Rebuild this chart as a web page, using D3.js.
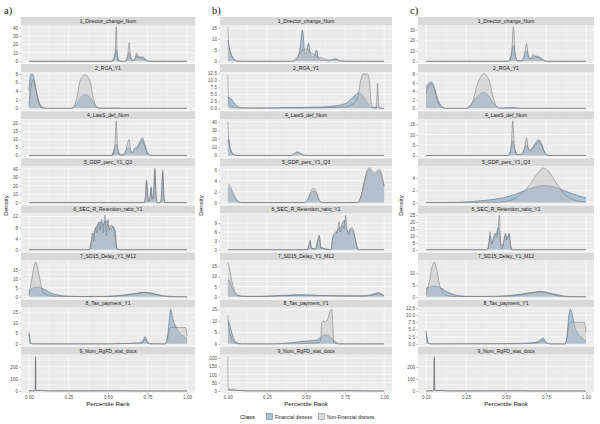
<!DOCTYPE html>
<html><head><meta charset="utf-8">
<script src="https://cdn.jsdelivr.net/npm/d3@7"></script>
<style>body{margin:0;background:#fff}svg{display:block}</style>
</head><body><svg id="c" width="600" height="424"></svg>
<script>
const facets = ["1_Director_change_Num","2_ROA_Y1","4_LawS_def_Num","5_GDP_perc_Y1_Q3","6_SEC_R_Retention_ratio_Y1","7_SD15_Delay_Y1_M12","8_Tax_payment_Y1","9_Num_RgFD_stat_docs"];
const classes = ["Financial distress","Non-Financial distress"];
const xTicks = [0,0.25,0.5,0.75,1];
const xTickLabels = ["0.00","0.25","0.50","0.75","1.00"];

// ---- panel a ----
const finA = [
 [[0,0],[0.52,0],[0.54,5],[0.552,14],[0.565,3],[0.58,0],[0.61,0],[0.625,6],[0.634,10],[0.645,4],[0.66,1],[0.675,4],[0.685,7],[0.70,5],[0.72,5],[0.735,3],[0.75,0.5],[0.77,0],[1,0]],
 [[0,4],[0.01,7.8],[0.02,8],[0.035,6.5],[0.05,3.5],[0.07,1],[0.09,0.2],[0.12,0],[0.26,0],[0.29,0.5],[0.32,2.2],[0.355,3.2],[0.39,2.4],[0.42,0.6],[0.45,0.05],[0.55,0.1],[0.6,0],[1,0]],
 [[0,0],[0.52,0],[0.54,4],[0.552,7],[0.565,3],[0.58,0.3],[0.6,0.5],[0.62,4],[0.632,5],[0.645,2],[0.66,2],[0.675,4.5],[0.69,6],[0.705,9],[0.717,11],[0.73,8],[0.745,3],[0.76,0.5],[0.78,0],[1,0]],
 [[0,0],[0.73,0],[0.737,7],[0.744,25],[0.751,7],[0.758,1],[0.765,5],[0.773,17],[0.78,4],[0.788,8],[0.796,38],[0.804,8],[0.812,0],[0.832,0],[0.839,9],[0.846,36],[0.853,9],[0.86,0],[1,0]],
 [[0,0],[0.38,0],[0.395,3],[0.41,6],[0.425,8],[0.44,9.5],[0.455,10],[0.47,9],[0.485,10.5],[0.50,9],[0.515,7],[0.53,8.5],[0.545,7],[0.555,1],[0.565,0],[1,0]],
 [[0,3.5],[0.03,5],[0.06,5.3],[0.09,4.5],[0.13,2.5],[0.18,1],[0.25,0.3],[0.35,0.1],[0.5,0.3],[0.6,1],[0.68,2],[0.73,2.6],[0.78,1.9],[0.85,0.6],[0.92,0.1],[1,0]],
 [[0,5.8],[0.005,3],[0.012,0.3],[0.03,0],[0.5,0],[0.6,0.2],[0.7,0.4],[0.72,1.5],[0.735,3.5],[0.75,1],[0.77,0.1],[0.86,0],[0.875,3],[0.888,12],[0.896,16.5],[0.91,12],[0.93,8],[0.95,5.5],[0.98,3.5],[1,2.5]],
 [[0,1],[0.035,2],[0.04,10],[0.042,270],[0.044,10],[0.05,4],[0.1,3],[0.13,0.5],[0.5,1],[0.6,1.5],[0.65,0],[1,0]]
];
const nonA = [
 [[0,0],[0.53,0],[0.545,8],[0.552,41],[0.558,8],[0.565,0],[0.615,0],[0.625,8],[0.634,22],[0.642,6],[0.655,0.5],[0.67,2],[0.68,10],[0.688,4],[0.70,4],[0.72,3],[0.74,1],[0.76,0],[1,0]],
 [[0,0.5],[0.01,4],[0.025,6.5],[0.04,5],[0.06,1.5],[0.08,0.2],[0.1,0],[0.27,0],[0.3,2],[0.325,6.5],[0.355,7.8],[0.385,6.5],[0.41,2],[0.43,0.2],[0.45,0],[1,0]],
 [[0,0],[0.53,0],[0.543,6],[0.552,21.5],[0.56,6],[0.57,0.5],[0.6,0.2],[0.62,6],[0.632,10],[0.645,3],[0.655,2],[0.67,5],[0.685,4],[0.70,7],[0.715,9],[0.73,6],[0.75,1],[0.77,0],[1,0]],
 [[0,0],[0.73,0],[0.737,8],[0.744,27],[0.751,8],[0.758,1],[0.765,6],[0.773,19],[0.78,4],[0.788,8],[0.796,41],[0.804,8],[0.812,0],[0.832,0],[0.839,10],[0.846,39],[0.853,10],[0.86,0],[1,0]],
 [[0,0],[0.38,0],[0.39,0.5],[0.40,6],[0.41,3],[0.42,8],[0.43,6],[0.44,10],[0.45,7],[0.46,11],[0.47,6],[0.48,12.5],[0.49,5],[0.50,11],[0.51,7],[0.52,9],[0.53,8],[0.54,7],[0.55,2],[0.56,0],[1,0]],
 [[0,1],[0.015,8],[0.03,16],[0.044,19.2],[0.06,14],[0.08,5],[0.1,1.5],[0.13,0.5],[0.2,0.2],[0.5,0.1],[0.6,0.6],[0.7,2],[0.73,2.3],[0.78,1.6],[0.85,0.3],[0.9,0],[1,0]],
 [[0,4.5],[0.005,2.5],[0.012,0.2],[0.03,0],[0.5,0],[0.72,0.5],[0.735,2.5],[0.75,0.5],[0.77,0],[0.86,0],[0.875,2],[0.89,7.5],[0.9,7.8],[0.95,7.8],[0.99,7.8],[0.998,5],[1,3.8]],
 [[0,0],[0.035,0],[0.04,5],[0.042,285],[0.044,5],[0.05,2],[0.1,3],[0.12,0.5],[0.5,0.5],[0.6,1],[0.65,0],[1,0]]
];
const yTicksA = [[0,10,20,30,40],[0,2,4,6,8],[0,5,10,15,20],[0,10,20,30,40],[0,4,8,12],[0,5,10,15],[0,5,10,15],[0,100,200]];

// ---- panel b ----
const finB = [
 [[0,9.5],[0.01,6],[0.025,2.5],[0.04,0.8],[0.06,0.1],[0.1,0],[0.42,0],[0.44,1],[0.46,5],[0.478,14],[0.49,5],[0.5,3],[0.516,8],[0.53,3],[0.55,2],[0.568,5],[0.58,1.5],[0.6,0.5],[0.65,0.2],[0.69,1],[0.71,0.2],[0.75,0],[1,0]],
 [[0,4],[0.02,3.5],[0.04,2],[0.06,0.8],[0.09,0.2],[0.15,0.1],[0.4,0.3],[0.6,0.5],[0.7,1],[0.76,2],[0.8,4],[0.84,5.5],[0.87,4],[0.9,1.5],[0.92,0.3],[0.95,0.5],[0.97,0.2],[1,0]],
 [[0,15],[0.006,19],[0.015,10],[0.025,4],[0.04,1],[0.06,0],[0.4,0],[0.42,1],[0.44,3.5],[0.455,3.2],[0.47,1.5],[0.49,0.2],[0.52,0],[1,0]],
 [[0,2.8],[0.01,2.6],[0.03,1.7],[0.05,0.6],[0.07,0.1],[0.09,0],[0.49,0],[0.51,0.4],[0.53,1.6],[0.547,2.1],[0.565,1.6],[0.585,0.4],[0.6,0],[0.83,0],[0.85,1],[0.87,3.2],[0.89,5.5],[0.904,6.1],[0.925,5.3],[0.94,5],[0.955,5.5],[0.97,5.7],[0.985,4.5],[1,3]],
 [[0,0],[0.51,0],[0.52,1.8],[0.526,2.8],[0.535,0.5],[0.56,0.3],[0.575,3],[0.585,4.5],[0.595,0.8],[0.66,0],[0.67,3.5],[0.69,5.5],[0.705,7],[0.72,7.5],[0.735,9],[0.745,10],[0.755,8],[0.77,6],[0.785,7],[0.8,6.5],[0.815,3.5],[0.828,0.8],[0.84,0],[1,0]],
 [[0,8],[0.01,8],[0.025,5],[0.04,2.5],[0.06,1],[0.09,0.3],[0.15,0.2],[0.3,0.5],[0.45,1],[0.6,0.6],[0.75,0.5],[0.88,0.5],[0.93,1.3],[0.96,2],[0.985,1.3],[1,0.5]],
 [[0,10],[0.01,9],[0.025,5],[0.04,2],[0.06,0.5],[0.09,0],[0.3,0],[0.4,0.5],[0.5,1.2],[0.56,1.6],[0.59,2.6],[0.62,4],[0.645,3.5],[0.67,2],[0.69,0.8],[0.715,0],[1,0]],
 [[0,10],[0.005,8],[0.05,4],[0.1,2],[0.15,0.5],[0.5,0.5],[0.75,2],[0.8,1],[0.9,0],[1,0]]
];
const nonB = [
 [[0,15.5],[0.004,9],[0.01,6],[0.025,2.5],[0.04,0.8],[0.06,0.1],[0.1,0],[0.4,0],[0.44,1.5],[0.47,4.5],[0.5,5.5],[0.53,4],[0.56,2.5],[0.6,1.5],[0.65,0.5],[0.69,1],[0.72,0.2],[0.8,0],[1,0]],
 [[0,12],[0.004,4],[0.01,1.5],[0.03,0.5],[0.06,0.1],[0.5,0.1],[0.75,0.5],[0.8,1.5],[0.83,4],[0.85,10],[0.865,12.3],[0.89,12.3],[0.905,10],[0.915,3],[0.925,0.2],[0.95,0],[0.953,3],[0.958,9],[0.963,3],[0.968,0],[1,0]],
 [[0,41],[0.003,30],[0.008,15],[0.015,6],[0.03,2],[0.05,0.2],[0.07,0],[0.4,0],[0.42,1.5],[0.445,4.3],[0.46,3.5],[0.475,1.5],[0.5,0.1],[0.52,0],[1,0]],
 [[0,3.5],[0.01,3.2],[0.03,2],[0.05,0.8],[0.07,0.1],[0.09,0],[0.49,0],[0.51,0.5],[0.53,2],[0.547,2.6],[0.565,2],[0.585,0.5],[0.6,0],[0.83,0],[0.85,1],[0.87,3.5],[0.89,5.8],[0.904,6.3],[0.925,5.8],[0.94,5.4],[0.955,5.8],[0.97,6.1],[0.985,5],[1,3]],
 [[0,0],[0.51,0],[0.52,2],[0.526,3.2],[0.535,0.5],[0.56,0.2],[0.575,3],[0.585,5],[0.595,0.5],[0.66,0],[0.67,4],[0.69,6],[0.70,5.5],[0.71,9.5],[0.72,6],[0.735,8],[0.745,7],[0.753,11.7],[0.765,6],[0.775,5],[0.785,7.3],[0.795,7.5],[0.81,5],[0.825,1],[0.835,0],[1,0]],
 [[0,17],[0.01,14],[0.025,8],[0.04,3.5],[0.06,1],[0.09,0.2],[0.2,0.1],[0.35,0.5],[0.5,0.8],[0.7,0.4],[0.85,0.3],[0.93,0.8],[0.965,1.5],[0.99,0.8],[1,0.5]],
 [[0,12.5],[0.004,8],[0.015,4],[0.03,1.5],[0.05,0.3],[0.08,0],[0.4,0],[0.5,0.2],[0.58,0.5],[0.595,2],[0.6,9.5],[0.61,10],[0.625,9.5],[0.64,11],[0.655,14.5],[0.664,15],[0.672,8],[0.676,0.5],[0.7,0],[1,0]],
 [[0,210],[0.002,20],[0.006,10],[0.05,5],[0.1,1],[0.15,0],[0.7,0],[0.78,1.5],[0.85,0],[1,0]]
];
const yTicksB = [[0,5,10,15],[0,2.5,5,7.5,10,12.5],[0,10,20,30,40],[0,2,4,6],[0,3,6,9],[0,5,10,15],[0,5,10,15],[0,50,100,150,200]];

// ---- panel c ----
const finC = [
 [[0,0],[0.51,0],[0.53,4],[0.546,15],[0.56,4],[0.575,0.5],[0.6,0.5],[0.615,5],[0.629,10],[0.64,5],[0.655,2.5],[0.67,4],[0.685,5],[0.70,4.5],[0.72,3],[0.735,1],[0.75,0],[1,0]],
 [[0,5],[0.015,5.8],[0.035,6.2],[0.055,4.5],[0.075,2],[0.1,0.5],[0.13,0],[0.25,0],[0.28,0.8],[0.31,2.3],[0.36,3.8],[0.4,2.5],[0.43,0.8],[0.46,0.1],[0.55,0.2],[0.6,0],[1,0]],
 [[0,0],[0.51,0],[0.53,3],[0.542,7],[0.555,3],[0.575,0.5],[0.6,0.5],[0.617,3.5],[0.629,5],[0.645,2.5],[0.66,3],[0.68,5.5],[0.705,7.5],[0.72,6],[0.74,2],[0.76,0.2],[0.78,0],[1,0]],
 [[0,0],[0.1,0],[0.2,0.05],[0.3,0.2],[0.4,0.45],[0.5,0.9],[0.58,1.6],[0.65,2.3],[0.7,2.7],[0.74,2.8],[0.8,2.6],[0.86,2],[0.92,1.4],[1,0.8]],
 [[0,0],[0.38,0],[0.39,2],[0.40,10],[0.41,5],[0.42,7],[0.43,10],[0.44,11],[0.45,16],[0.46,13],[0.47,4],[0.48,3],[0.49,8],[0.497,11],[0.505,8],[0.512,9],[0.52,11],[0.528,4],[0.537,0],[1,0]],
 [[0,3.5],[0.03,4.3],[0.06,4.5],[0.09,3.8],[0.13,2.2],[0.18,0.8],[0.25,0.2],[0.35,0.1],[0.5,0.4],[0.6,1.2],[0.68,2],[0.715,2.3],[0.76,1.8],[0.83,0.7],[0.9,0.1],[1,0]],
 [[0,4.5],[0.005,3],[0.012,0.5],[0.03,0],[0.5,0.1],[0.65,0.3],[0.7,0.8],[0.718,1.5],[0.732,2],[0.745,1],[0.76,0.2],[0.78,0],[0.87,0],[0.88,2],[0.893,10],[0.903,12],[0.915,10],[0.93,6],[0.95,3.5],[0.975,2],[1,1]],
 [[0,1],[0.045,2],[0.049,10],[0.052,265],[0.055,10],[0.06,4],[0.12,3],[0.14,0.5],[0.5,1],[0.6,1.5],[0.65,0],[1,0]]
];
const nonC = [
 [[0,0],[0.52,0],[0.535,8],[0.546,33],[0.557,8],[0.57,0.5],[0.6,0.2],[0.615,6],[0.629,17],[0.64,5],[0.655,2],[0.67,7],[0.685,4],[0.70,3.5],[0.72,2],[0.74,0.5],[0.76,0],[1,0]],
 [[0,3.5],[0.015,5],[0.03,5.8],[0.05,4.8],[0.07,2],[0.09,0.5],[0.12,0],[0.26,0],[0.29,1.5],[0.32,5.5],[0.36,8.1],[0.395,6.5],[0.42,2.5],[0.44,0.5],[0.46,0],[1,0]],
 [[0,0],[0.52,0],[0.533,5],[0.542,16.5],[0.552,5],[0.565,0.5],[0.6,0.5],[0.617,4],[0.629,8.5],[0.64,3],[0.655,2.5],[0.67,3.5],[0.69,5.5],[0.705,6.5],[0.72,5],[0.74,1.5],[0.76,0],[1,0]],
 [[0,0],[0.4,0],[0.5,0.2],[0.55,0.6],[0.6,1.5],[0.65,3],[0.7,4.9],[0.736,5.7],[0.77,5],[0.82,3],[0.87,1.3],[0.92,0.5],[0.96,0.2],[1,0.1]],
 [[0,0],[0.385,0],[0.392,3],[0.40,13],[0.41,4],[0.42,8],[0.43,12],[0.44,9],[0.45,14],[0.458,25],[0.465,6],[0.475,0.5],[0.48,2],[0.49,9],[0.497,12],[0.505,7],[0.512,9],[0.52,12],[0.528,3],[0.535,0],[1,0]],
 [[0,1],[0.02,6],[0.04,13],[0.052,14.5],[0.065,12],[0.085,5],[0.11,1.5],[0.14,0.3],[0.2,0.1],[0.5,0.2],[0.6,0.8],[0.68,1.8],[0.715,2],[0.76,1.5],[0.82,0.5],[0.88,0],[1,0]],
 [[0,3.5],[0.005,2],[0.012,0.3],[0.03,0],[0.6,0],[0.7,0.4],[0.732,1.2],[0.75,0.3],[0.78,0],[0.87,0],[0.88,2],[0.895,7],[0.91,7.5],[0.95,7.5],[0.99,7.5],[0.997,5.5],[1,4]],
 [[0,0],[0.045,0],[0.049,5],[0.052,285],[0.055,5],[0.06,2],[0.12,2],[0.14,0],[0.5,0.5],[0.6,1],[0.65,0],[1,0]]
];
const yTicksC = [[0,10,20,30],[0,2,4,6,8],[0,5,10,15],[0,2,4],[0,5,10,15,20,25],[0,5,10],[0,2.5,5,7.5,10,12.5],[0,100,200]];

// ---- drawing ----
const svg = d3.select("#c");
const font = "Liberation Sans, Arial, sans-serif";
const fillFin = "rgba(70,130,180,0.40)", fillNon = "rgba(190,190,190,0.45)";
const strokeFin = "#4d5d6e", strokeNon = "#6e6e6e";

const panels = [
  {label:"a)", lx:4, left:21, right:195, fin:finA, non:nonA, yt:yTicksA, tx:8},
  {label:"b)", lx:212, left:220, right:392, fin:finB, non:nonB, yt:yTicksB, tx:203},
  {label:"c)", lx:410, left:418, right:594, fin:finC, non:nonC, yt:yTicksC, tx:403}
];
const top0 = 17, step = 47.1, stripH = 8, panH = 38;

panels.forEach(p => {
  const g = svg.append("g");
  g.append("text").attr("x", p.lx).attr("y", 14).text(p.label)
    .attr("font-family","Liberation Serif, Times New Roman, serif").attr("font-size", 10.5).attr("fill","#111");
  const x = d3.scaleLinear().domain([-0.05,1.05]).range([p.left, p.right]);
  facets.forEach((name, i) => {
    const st = top0 + i*step;
    const pt = st + stripH, pb = pt + panH;
    const fin = p.fin[i], non = p.non[i];
    const ymax = d3.max([...fin, ...non], d => d[1]);
    const y = d3.scaleLinear().domain([-0.05*ymax, 1.05*ymax]).range([pb, pt]);
    g.append("rect").attr("x", p.left).attr("y", st).attr("width", p.right-p.left).attr("height", stripH).attr("fill","#D9D9D9");
    g.append("text").attr("x",(p.left+p.right)/2).attr("y", st+stripH/2+1.8).attr("text-anchor","middle")
      .attr("font-family",font).attr("font-size",5.1).attr("fill","#1a1a1a").text(name);
    g.append("rect").attr("x", p.left).attr("y", pt).attr("width", p.right-p.left).attr("height", panH).attr("fill","#EBEBEB");
    const yt = p.yt[i];
    const minorY = [];
    for (let k=0;k<yt.length-1;k++) minorY.push((yt[k]+yt[k+1])/2);
    if (yt.length>1 && yt[yt.length-1] + (yt[1]-yt[0])/2 < 1.05*ymax) minorY.push(yt[yt.length-1] + (yt[1]-yt[0])/2);
    minorY.forEach(v => g.append("line").attr("x1",p.left).attr("x2",p.right).attr("y1",y(v)).attr("y2",y(v)).attr("stroke","#fff").attr("stroke-width",0.3));
    [0.125,0.375,0.625,0.875].forEach(v => g.append("line").attr("x1",x(v)).attr("x2",x(v)).attr("y1",pt).attr("y2",pb).attr("stroke","#fff").attr("stroke-width",0.3));
    yt.forEach(v => g.append("line").attr("x1",p.left).attr("x2",p.right).attr("y1",y(v)).attr("y2",y(v)).attr("stroke","#fff").attr("stroke-width",0.6));
    xTicks.forEach(v => g.append("line").attr("x1",x(v)).attr("x2",x(v)).attr("y1",pt).attr("y2",pb).attr("stroke","#fff").attr("stroke-width",0.6));
    const area = d3.area().x(d => x(d[0])).y0(y(0)).y1(d => y(d[1])).curve(d3.curveMonotoneX);
    const line = d3.line().x(d => x(d[0])).y(d => y(d[1])).curve(d3.curveMonotoneX);
    g.append("path").datum(fin).attr("d", area).attr("fill", fillFin);
    g.append("path").datum(fin).attr("d", line).attr("fill","none").attr("stroke", strokeFin).attr("stroke-width",0.5);
    g.append("path").datum(non).attr("d", area).attr("fill", fillNon);
    g.append("path").datum(non).attr("d", line).attr("fill","none").attr("stroke", strokeNon).attr("stroke-width",0.5);
    const ax = d3.axisLeft(y).tickValues(yt).tickSize(1.5).tickPadding(1.5)
      .tickFormat(v => (yt.some(t => t % 1 !== 0)) ? d3.format(".1f")(v) : d3.format("d")(v));
    const ag = g.append("g").attr("transform",`translate(${p.left},0)`).call(ax);
    ag.select(".domain").remove();
    ag.selectAll("line").attr("stroke","#333").attr("stroke-width",0.4);
    ag.selectAll("text").attr("font-family",font).attr("font-size",4.6).attr("fill","#4D4D4D");
    if (i === facets.length-1) {
      const bx = d3.axisBottom(x).tickValues(xTicks).tickSize(1.5).tickPadding(1.5).tickFormat((v,j)=>xTickLabels[j]);
      const bg = g.append("g").attr("transform",`translate(0,${pb})`).call(bx);
      bg.select(".domain").remove();
      bg.selectAll("line").attr("stroke","#333").attr("stroke-width",0.4);
      bg.selectAll("text").attr("font-family",font).attr("font-size",4.6).attr("fill","#4D4D4D");
      g.append("text").attr("x", x(0.5)).attr("y", pb+13).attr("text-anchor","middle")
        .attr("font-family",font).attr("font-size",6.2).attr("fill","#111").text("Percentile Rank");
    }
  });
  const midY = top0 + (facets.length*step)/2;
  g.append("text").attr("transform",`translate(${p.tx},${midY}) rotate(-90)`).attr("text-anchor","middle")
    .attr("font-family",font).attr("font-size",6.2).attr("fill","#111").text("Density");
});

const lg = svg.append("g").attr("font-family",font);
lg.append("text").attr("x",240).attr("y",419).attr("font-size",6).attr("fill","#111").text("Class");
const keys = [{x:266, fill:fillFin, stroke:strokeFin, tx:275}, {x:318, fill:fillNon, stroke:strokeNon, tx:327}];
keys.forEach((k,j) => {
  lg.append("rect").attr("x",k.x).attr("y",413).attr("width",7).attr("height",7).attr("fill","#EBEBEB");
  lg.append("rect").attr("x",k.x+0.5).attr("y",413.5).attr("width",6).attr("height",6).attr("fill",k.fill).attr("stroke",k.stroke).attr("stroke-width",0.4);
  lg.append("text").attr("x",k.tx).attr("y",418.8).attr("font-size",4.8).attr("fill","#1a1a1a").text(classes[j]);
});
</script></body></html>
